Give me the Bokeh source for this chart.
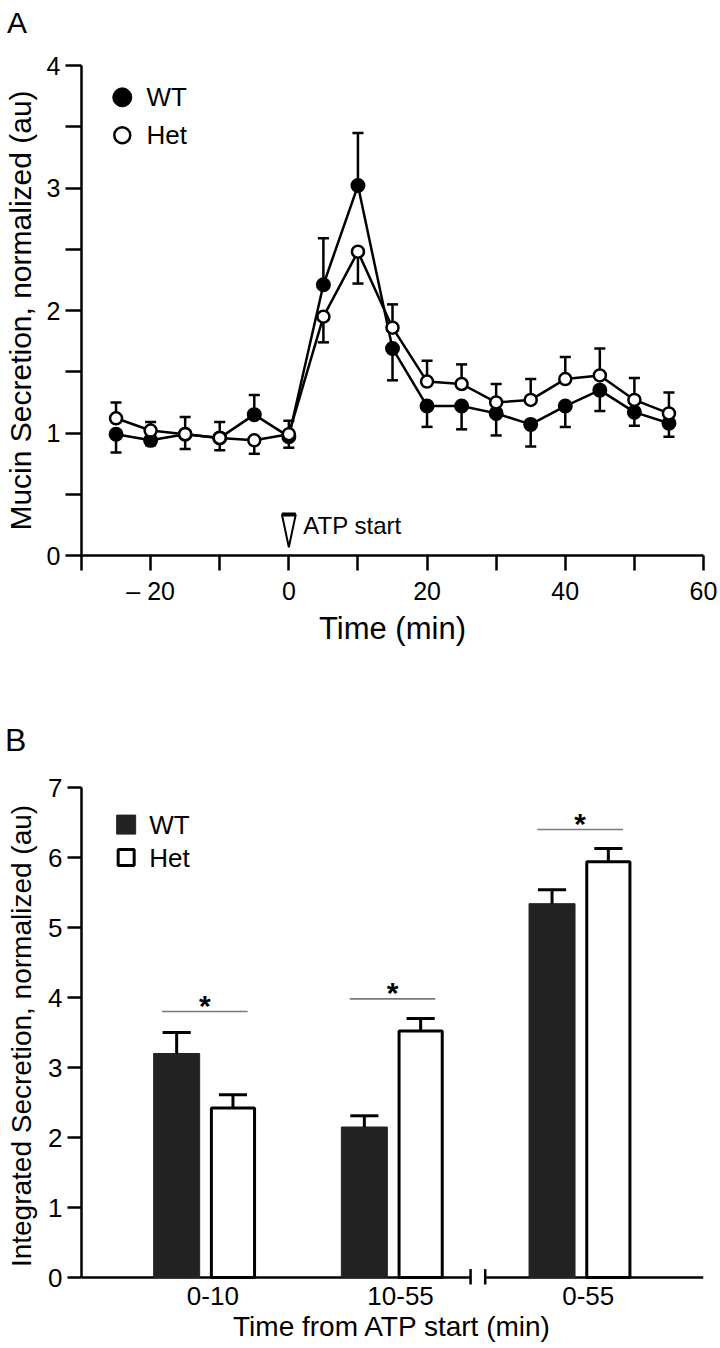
from bokeh.plotting import figure
from bokeh.layouts import column
from bokeh.models import FixedTicker, Range1d, Div
from bokeh.core.properties import value
from bokeh.embed import file_html
from bokeh.resources import INLINE

FONT = "Liberation Sans"

# ---------------- Panel A data ----------------
time_min = [-25, -20, -15, -10, -5, 0, 5, 10, 15, 20, 25, 30, 35, 40, 45, 50, 55]
wt_mean = [0.99, 0.94, 0.99, 0.96, 1.15, 0.97, 2.21, 3.02, 1.69, 1.22, 1.22, 1.16, 1.07, 1.22, 1.35, 1.17, 1.08]
wt_sem_up = [0, 0, 0, 0, 0.16, 0, 0.38, 0.43, 0, 0, 0, 0, 0, 0, 0, 0, 0]
wt_sem_down = [0.15, 0.04, 0.12, 0.10, 0, 0.09, 0, 0, 0.26, 0.17, 0.19, 0.18, 0.18, 0.17, 0.17, 0.11, 0.11]
het_mean = [1.12, 1.02, 0.99, 0.96, 0.94, 0.99, 1.95, 2.48, 1.86, 1.42, 1.40, 1.25, 1.27, 1.44, 1.47, 1.27, 1.16]
het_sem_up = [0.13, 0.07, 0.14, 0.13, 0, 0.11, 0, 0, 0.19, 0.17, 0.16, 0.15, 0.17, 0.18, 0.22, 0.18, 0.17]
het_sem_down = [0, 0, 0, 0, 0.11, 0, 0.21, 0.26, 0, 0, 0, 0, 0, 0, 0, 0, 0]
atp_start_time = 0
a_xticks = [-30, -20, -10, 0, 10, 20, 30, 40, 50, 60]
a_xlabels = ["", "\u2013 20", "", "0", "", "20", "", "40", "", "60"]
a_yticks = [0.0, 0.5, 1.0, 1.5, 2.0, 2.5, 3.0, 3.5, 4.0]
a_ylabels = ["0", "", "1", "", "2", "", "3", "", "4"]

# ---------------- Panel B data ----------------
groups = ["0-10", "10-55", "0-55"]
group_pos = [1, 2, 3]
wt_int = [3.20, 2.15, 5.34]
wt_int_sem = [0.30, 0.16, 0.20]
het_int = [2.42, 3.52, 5.94]
het_int_sem = [0.19, 0.18, 0.19]
sig_y = [3.80, 3.98, 6.40]
b_yticks = [0, 1, 2, 3, 4, 5, 6, 7]


def style_axes(p, tick_size, title_size_x, title_size_y):
    for ax in (p.xaxis[0], p.yaxis[0]):
        ax.axis_line_width = 2.5
        ax.axis_line_color = "black"
        ax.major_tick_line_width = 2.5
        ax.major_tick_line_color = "black"
        ax.minor_tick_line_color = None
        ax.major_tick_in = 0
        ax.major_label_text_font = FONT
        ax.major_label_text_color = "black"
        ax.major_label_text_font_size = tick_size
        ax.axis_label_text_font = FONT
        ax.axis_label_text_font_style = "normal"
        ax.axis_label_text_color = "black"
    p.xaxis[0].axis_label_text_font_size = title_size_x
    p.yaxis[0].axis_label_text_font_size = title_size_y
    p.xgrid.visible = False
    p.ygrid.visible = False
    p.outline_line_color = None
    p.background_fill_color = "white"
    p.border_fill_color = "white"


def panel_letter(letter, height, size, pad_top, pad_left):
    html = ('<div style="font-family:\'Liberation Sans\',Arial,sans-serif;font-size:%dpx;'
            'line-height:%dpx;margin:0;padding:%dpx 0 0 %dpx;color:#000;">%s</div>'
            % (size, size, pad_top, pad_left, letter))
    return Div(text=html, width=720, height=height, margin=0)


# =============== Panel A ===============
pa = figure(width=720, height=660, x_range=Range1d(-30, 60), y_range=Range1d(0, 4),
            output_backend="svg", toolbar_location=None,
            min_border_left=76, min_border_right=16, min_border_top=25, min_border_bottom=145)
style_axes(pa, "25px", "31px", "30px")
pa.xaxis.ticker = FixedTicker(ticks=a_xticks)
pa.xaxis.major_label_overrides = dict(zip(a_xticks, a_xlabels))
pa.yaxis.ticker = FixedTicker(ticks=a_yticks)
pa.yaxis.major_label_overrides = dict(zip(a_yticks, a_ylabels))
pa.xaxis.major_tick_out = 15
pa.yaxis.major_tick_out = 16
pa.xaxis.major_label_standoff = 6
pa.yaxis.major_label_standoff = 5
pa.xaxis.axis_label = "Time (min)"
pa.yaxis.axis_label = "Mucin Secretion, normalized (au)"
pa.xaxis.axis_label_standoff = 3
pa.yaxis.axis_label_standoff = 7

CAP_A = 0.8


def err_lines(xs, ys, ups, downs, cap):
    sx0, sy0, sx1, sy1 = [], [], [], []
    cx0, cy, cx1 = [], [], []
    for x, y, u, d in zip(xs, ys, ups, downs):
        if u > 0:
            sx0.append(x); sy0.append(y); sx1.append(x); sy1.append(y + u)
            cx0.append(x - cap); cy.append(y + u); cx1.append(x + cap)
        if d > 0:
            sx0.append(x); sy0.append(y); sx1.append(x); sy1.append(y - d)
            cx0.append(x - cap); cy.append(y - d); cx1.append(x + cap)
    return sx0, sy0, sx1, sy1, cx0, cy, cx1


for means, ups, downs in ((wt_mean, wt_sem_up, wt_sem_down), (het_mean, het_sem_up, het_sem_down)):
    sx0, sy0, sx1, sy1, cx0, cy, cx1 = err_lines(time_min, means, ups, downs, CAP_A)
    pa.segment(x0=sx0, y0=sy0, x1=sx1, y1=sy1, line_color="black", line_width=2.5)
    pa.segment(x0=cx0, y0=cy, x1=cx1, y1=cy, line_color="black", line_width=2.5)

pa.line(time_min, wt_mean, line_color="black", line_width=2.5)
pa.line(time_min, het_mean, line_color="black", line_width=2.5)
pa.scatter(time_min, wt_mean, marker="circle", size=13, fill_color="black", line_color="black", line_width=2)
pa.scatter(time_min, het_mean, marker="circle", size=12, fill_color="white", line_color="black", line_width=2.5)

# legend A
leg_ax = -24.1
leg_ay = [3.74, 3.43]
pa.scatter([leg_ax], [leg_ay[0]], marker="circle", size=19, fill_color="black", line_color="black", line_width=1)
pa.scatter([leg_ax], [leg_ay[1]], marker="circle", size=16, fill_color="white", line_color="black", line_width=2.5)
pa.text(x=[leg_ax + 3.5, leg_ax + 3.5], y=leg_ay, text=["WT", "Het"], text_font=value(FONT),
        text_font_size="26px", text_baseline="middle", text_align="left", text_color="black")

# ATP start marker
tri_hw, tri_top, tri_tip = 1.0, 0.335, 0.068
pa.patch(x=[atp_start_time - tri_hw, atp_start_time + tri_hw, atp_start_time],
         y=[tri_top, tri_top, tri_tip], fill_color="white", line_color="black", line_width=2)
pa.segment(x0=[atp_start_time - tri_hw], y0=[tri_top], x1=[atp_start_time + tri_hw], y1=[tri_top],
           line_color="black", line_width=4)
pa.text(x=[atp_start_time + 2.1], y=[0.245], text=["ATP start"], text_font=value(FONT),
        text_font_size="24px", text_baseline="middle", text_align="left", text_color="black")

# =============== Panel B ===============
label_shift = 0.043
bx_start, bx_end = 0.300, 3.614
pb = figure(width=720, height=588, x_range=Range1d(bx_start, bx_end), y_range=Range1d(-0.1, 7),
            output_backend="svg", toolbar_location=None,
            min_border_left=73, min_border_right=17, min_border_top=27, min_border_bottom=64)
style_axes(pb, "26px", "28px", "28px")
pb.yaxis.bounds = (0, 7)
pb.yaxis.ticker = FixedTicker(ticks=b_yticks)
pb.yaxis.major_tick_out = 14
pb.yaxis.major_label_standoff = 5
pb.yaxis.axis_label = "Integrated Secretion, normalized (au)"
pb.yaxis.axis_label_standoff = 8
pb.xaxis.ticker = FixedTicker(ticks=group_pos)
pb.xaxis.major_label_overrides = dict(zip(group_pos, groups))
pb.xaxis.axis_line_color = None
pb.xaxis.major_tick_line_color = None
pb.xaxis.major_tick_out = 0
pb.xaxis.major_label_standoff = 2
pb.xaxis.axis_label = "Time from ATP start (min)"
pb.xaxis.axis_label_standoff = 3

centers = [g - label_shift for g in group_pos]
bar_off, bar_w_wt, bar_w_het = 0.15, 0.245, 0.23
wt_x = [c - bar_off for c in centers]
het_x = [c + bar_off for c in centers]

# axis line with break
break_lo, break_hi = 2.373, 2.451
pb.segment(x0=[bx_start, break_hi], y0=[0, 0], x1=[break_lo, bx_end], y1=[0, 0],
           line_color="black", line_width=2.5)
pb.segment(x0=[break_lo, break_hi], y0=[-0.12, -0.12], x1=[break_lo, break_hi], y1=[0.12, 0.12],
           line_color="black", line_width=2.5)

pb.vbar(x=wt_x, top=wt_int, bottom=0, width=bar_w_wt, fill_color="#222222", line_color="#222222", line_width=1)
pb.vbar(x=het_x, top=het_int, bottom=0, width=bar_w_het, fill_color="white", line_color="black", line_width=3)

CAP_B = 0.075
for xs, tops, sems in ((wt_x, wt_int, wt_int_sem), (het_x, het_int, het_int_sem)):
    ends = [t + s for t, s in zip(tops, sems)]
    pb.segment(x0=xs, y0=tops, x1=xs, y1=ends, line_color="black", line_width=3)
    pb.segment(x0=[x - CAP_B for x in xs], y0=ends, x1=[x + CAP_B for x in xs], y1=ends,
               line_color="black", line_width=3)

sig_hw = 0.228
pb.segment(x0=[c - sig_hw for c in centers], y0=sig_y, x1=[c + sig_hw for c in centers], y1=sig_y,
           line_color="#7a7a7a", line_width=1.6)
pb.text(x=centers, y=sig_y, text=["*"] * len(centers), text_font=value(FONT), text_font_size="30px",
        text_font_style="bold", text_align="center", text_baseline="middle", y_offset=-6, text_color="black")

# legend B
leg_bx = 0.538
leg_by = [6.47, 6.0]
pb.scatter([leg_bx], [leg_by[0]], marker="square", size=19, fill_color="#222222", line_color="#222222", line_width=1)
pb.scatter([leg_bx], [leg_by[1]], marker="square", size=16, fill_color="white", line_color="black", line_width=3)
pb.text(x=[0.661, 0.661], y=leg_by, text=["WT", "Het"], text_font=value(FONT),
        text_font_size="26px", text_baseline="middle", text_align="left", text_color="black")

div_a = panel_letter("A", 40, 30, 8, 7)
div_b = panel_letter("B", 60, 32, 24, 5)

layout = column(div_a, pa, div_b, pb, spacing=0)
open("out.html", "w").write(file_html(layout, INLINE))
